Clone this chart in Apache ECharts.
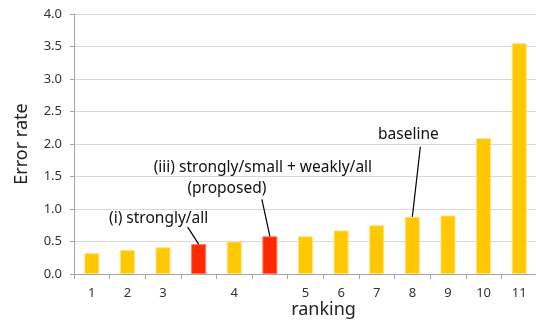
<!DOCTYPE html>
<html><head><meta charset="utf-8">
<script src="https://cdn.jsdelivr.net/npm/echarts@6/dist/echarts.min.js"></script>
<style>html,body{margin:0;padding:0;background:#fff}#c{width:536px;height:320px}</style>
</head><body><div id="c"></div>
<script>
const categories = ['1','2','3','','4','','5','6','7','8','9','10','11'];
const values = [0.32, 0.37, 0.41, 0.46, 0.50, 0.58, 0.58, 0.67, 0.75, 0.88, 0.90, 2.09, 3.55];
const highlighted = [3, 5];
const yTicks = [0, 0.5, 1.0, 1.5, 2.0, 2.5, 3.0, 3.5, 4.0];
const labels = [
  {idx: 3, text: '(i) strongly/all', dx: -40, dy: -26},
  {idx: 5, text: '(iii) strongly/small + weakly/all', dx: -7, dy: -69},
  {idx: 5, text: '(proposed)', dx: -43, dy: -48},
  {idx: 9, text: 'baseline', dx: -4, dy: -82}
];
const leaders = [
  {idx: 3, lx: -11, ly: -17},
  {idx: 5, lx: -8, ly: -37},
  {idx: 9, lx: 8, ly: -70}
];
const FONT = '"Noto Sans", "DejaVu Sans", sans-serif';
const chart = echarts.init(document.getElementById('c'), null, {renderer: 'canvas'});
chart.setOption({
  animation: false,
  grid: {left: 74, right: -1, top: 14, bottom: 46, outerBoundsMode: 'none', containLabel: false},
  xAxis: {
    type: 'category', data: categories,
    name: 'ranking', nameLocation: 'middle', nameGap: 36, nameMoveOverlap: false,
    nameTextStyle: {fontSize: 18, color: '#222', fontFamily: FONT, padding: [0,0,0,36], verticalAlign: 'middle'},
    axisLine: {lineStyle: {color: '#a6a6a6'}},
    axisTick: {show: true, interval: 0, length: 5, lineStyle: {color: '#a6a6a6'}},
    axisLabel: {interval: 0, fontSize: 13, color: '#333', margin: 13, fontFamily: FONT}
  },
  yAxis: {
    type: 'value', min: 0, max: 4, interval: 0.5,
    name: 'Error rate', nameLocation: 'middle', nameGap: 52, nameRotate: 90, nameMoveOverlap: false,
    nameTextStyle: {fontSize: 18, color: '#222', fontFamily: FONT, verticalAlign: 'middle'},
    axisLine: {show: true, lineStyle: {color: '#a6a6a6'}},
    axisTick: {show: true, length: 4, lineStyle: {color: '#a6a6a6'}},
    splitLine: {lineStyle: {color: '#d9d9d9', width: 1}},
    axisLabel: {fontSize: 13, color: '#333', margin: 12, fontFamily: FONT,
      formatter: v => yTicks.includes(v) ? v.toFixed(1) : ''}
  },
  series: [{
    type: 'bar', barWidth: 15,
    data: values.map((v, i) => ({value: v, itemStyle: {
      color: highlighted.includes(i) ? '#ff2a00' : '#ffc800',
      borderColor: highlighted.includes(i) ? '#ff7a5a' : '#ffe080', borderWidth: 1}}))
  }]
});
const g = [];
const px = i => chart.convertToPixel({xAxisIndex: 0, yAxisIndex: 0}, [i, values[i]]);
leaders.forEach(a => {
  const p = px(a.idx);
  g.push({type: 'line', shape: {x1: p[0], y1: p[1], x2: p[0] + a.lx, y2: p[1] + a.ly},
    style: {stroke: '#000', lineWidth: 1.2}, z: 100});
});
labels.forEach(a => {
  const p = px(a.idx);
  g.push({type: 'text', x: p[0] + a.dx, y: p[1] + a.dy,
    style: {text: a.text, fontSize: 15.5, fill: '#111', fontFamily: FONT, align: 'center', verticalAlign: 'middle'}, z: 100});
});
chart.setOption({graphic: g});
</script></body></html>
